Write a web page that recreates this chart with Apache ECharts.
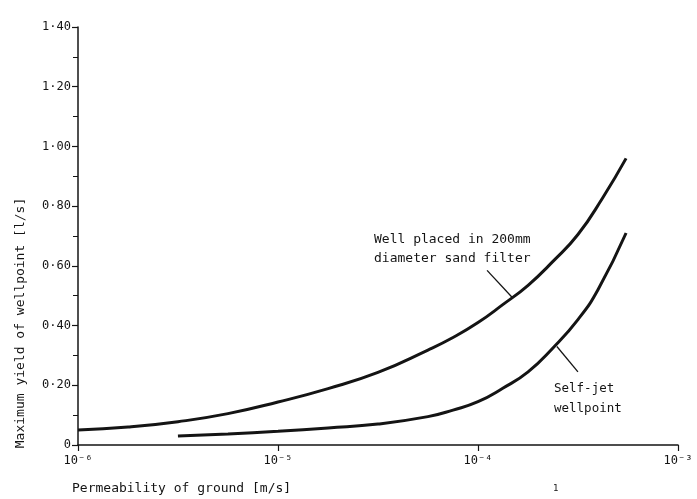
<!DOCTYPE html>
<html><head><meta charset="utf-8">
<script src="https://cdn.jsdelivr.net/npm/echarts@6/dist/echarts.min.js"></script>
<style>html,body{margin:0;padding:0;background:#fff}#c{width:697px;height:499px}</style>
</head><body><div id="c"></div>
<script>
// Data
const sandFilterK = [1e-6, 1.78e-6, 3.16e-6, 5.62e-6, 1e-5, 1.78e-5, 3.16e-5, 5.62e-5, 7.5e-5, 1e-4, 1.33e-4, 1.78e-4, 2.37e-4, 3.16e-4, 4.22e-4, 5.5e-4];
const sandFilterQ = [0.05, 0.06, 0.078, 0.105, 0.144, 0.189, 0.243, 0.318, 0.36, 0.41, 0.47, 0.535, 0.615, 0.705, 0.83, 0.96];
const selfJetK = [3.16e-6, 5.62e-6, 1e-5, 1.78e-5, 3.16e-5, 5.62e-5, 7.5e-5, 1e-4, 1.33e-4, 1.78e-4, 2.37e-4, 3.16e-4, 3.98e-4, 5.5e-4];
const selfJetQ = [0.03, 0.037, 0.046, 0.057, 0.07, 0.095, 0.117, 0.145, 0.19, 0.245, 0.325, 0.42, 0.52, 0.71];
const xTickLabels = {'-6': '10⁻⁶', '-5': '10⁻⁵', '-4': '10⁻⁴', '-3': '10⁻³'};
const sandLeader = [[1.11e-4, 0.585], [1.48e-4, 0.495]];
const jetLeader = [[2.48e-4, 0.33], [3.16e-4, 0.245]];

const font = '"DejaVu Sans Mono", "Liberation Mono", monospace';
const ink = '#141414';

const chart = echarts.init(document.getElementById('c'), null, {renderer: 'canvas'});
chart.setOption({
  animation: false,
  backgroundColor: '#fff',
  grid: {left: 78, right: 19, top: 27, bottom: 54, containLabel: false},
  xAxis: {
    type: 'log', logBase: 10, min: 1e-6, max: 1e-3,
    axisLine: {lineStyle: {color: ink, width: 1.5}},
    axisTick: {show: true, length: 6, lineStyle: {color: ink, width: 1.2}},
    minorTick: {show: false},
    splitLine: {show: false},
    axisLabel: {
      color: ink, fontFamily: font, fontSize: 12, margin: 10,
      formatter: v => xTickLabels[String(Math.round(Math.log10(v)))] || ''
    }
  },
  yAxis: {
    type: 'value', min: 0, max: 1.4, interval: 0.2,
    axisLine: {show: true, lineStyle: {color: ink, width: 1.5}},
    axisTick: {show: true, length: 6, lineStyle: {color: ink, width: 1.2}},
    minorTick: {show: true, splitNumber: 2, length: 5, lineStyle: {color: ink, width: 1}},
    splitLine: {show: false},
    axisLabel: {
      color: ink, fontFamily: font, fontSize: 12, margin: 7,
      formatter: v => v === 0 ? '0' : v.toFixed(2).replace('.', '·')
    }
  },
  series: [
    {
      type: 'line', smooth: 0.5, symbol: 'none',
      data: sandFilterK.map((k, i) => [k, sandFilterQ[i]]),
      lineStyle: {color: ink, width: 3},
      markLine: {
        silent: true, symbol: 'none', label: {show: false},
        lineStyle: {color: ink, width: 1.3, type: 'solid'},
        data: [[{coord: sandLeader[0]}, {coord: sandLeader[1]}]]
      }
    },
    {
      type: 'line', smooth: 0.5, symbol: 'none',
      data: selfJetK.map((k, i) => [k, selfJetQ[i]]),
      lineStyle: {color: ink, width: 3},
      markLine: {
        silent: true, symbol: 'none', label: {show: false},
        lineStyle: {color: ink, width: 1.3, type: 'solid'},
        data: [[{coord: jetLeader[0]}, {coord: jetLeader[1]}]]
      }
    }
  ],
  graphic: [
    {type: 'text', left: 374, top: 230, style: {text: 'Well placed in 200mm\ndiameter sand filter', fill: ink, font: '13px ' + font, lineHeight: 19}},
    {type: 'text', left: 554, top: 379, style: {text: 'Self-jet\nwellpoint', fill: ink, font: '12.5px ' + font, lineHeight: 20}},
    {type: 'text', left: 72, top: 482, style: {text: 'Permeability of ground [m/s]', fill: ink, font: '13px ' + font}},
    {type: 'text', left: 553, top: 484, style: {text: '1', fill: ink, font: '9px ' + font}},
    {type: 'text', x: 21, y: 323, rotation: Math.PI / 2, style: {text: 'Maximum yield of wellpoint [l/s]', fill: ink, font: '13px ' + font, align: 'center', verticalAlign: 'middle'}}
  ]
});
</script>
</body></html>
